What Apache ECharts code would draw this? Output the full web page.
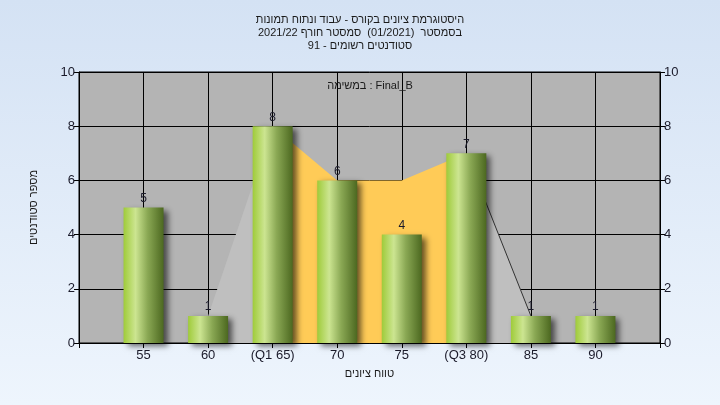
<!DOCTYPE html>
<html><head><meta charset="utf-8">
<script src="https://cdn.jsdelivr.net/npm/echarts@6/dist/echarts.min.js"></script>
<style>html,body{margin:0;padding:0;}#c{width:720px;height:405px;}</style>
</head><body><div id="c"></div>
<script>
var categories = ['', '55', '60', '(Q1 65)', '70', '75', '(Q3 80)', '85', '90', ''];
var counts = [null, 5, 1, 8, 6, 4, 7, 1, 1, null];
var lowWhisker = [null, null, 1, 8, null, null, null, null, null, null];
var boxArea = [null, null, null, 8, 6, 6, 7, null, null, null];
var highWhisker = [null, null, null, null, null, null, 7, 1, null, null];
var yTicks = {min: 0, max: 10, interval: 2};
var titleLines = ['היסטוגרמת ציונים בקורס - עבוד ונתוח תמונות', 'בסמסטר  (01/2021)  סמסטר חורף 2021/22', 'סטודנטים רשומים - 91'];
var subTitle = 'במשימה : Final_B';
var yName = 'מספר סטודנטים';
var xName = 'טווח ציונים';

var font = 'Liberation Sans';
var chart = echarts.init(document.getElementById('c'));
var barGrad = new echarts.graphic.LinearGradient(0, 0, 1, 0, [
  {offset: 0, color: '#9fcb3a'},
  {offset: 0.3, color: '#cce591'},
  {offset: 0.6, color: '#8aa854'},
  {offset: 1, color: '#4c6820'}
]);
var yAxisBase = {
  type: 'value', min: yTicks.min, max: yTicks.max, interval: yTicks.interval,
  axisLine: {show: true, lineStyle: {color: '#000', width: 1}},
  axisTick: {show: true, length: 5, lineStyle: {color: '#000'}},
  axisLabel: {color: '#1a1a2a', fontFamily: font, fontSize: 13, margin: 4}
};
chart.setOption({
  backgroundColor: new echarts.graphic.LinearGradient(0, 0, 0, 1, [
    {offset: 0, color: '#d4e2f4'}, {offset: 1, color: '#eef5fd'}
  ]),
  animation: false,
  title: [{
    text: titleLines.join('\n'), left: 'center', top: 8,
    textStyle: {fontFamily: font, fontSize: 11, fontWeight: 'normal', color: '#1a1a1a', lineHeight: 13}
  }, {
    text: subTitle, left: 365, top: 75, textAlign: 'center',
    textStyle: {fontFamily: font, fontSize: 11, fontWeight: 'normal', color: '#1a1a1a'}
  }],
  grid: {left: 79, right: 60, top: 72, bottom: 62, show: true, backgroundColor: '#b4b4b4', borderColor: '#000', borderWidth: 1},
  xAxis: {
    type: 'category', data: categories, boundaryGap: false,
    name: xName, nameLocation: 'middle', nameGap: 25,
    nameTextStyle: {fontFamily: font, fontSize: 11, color: '#1a1a1a'},
    axisLine: {show: true, lineStyle: {color: '#000'}},
    axisTick: {show: true, length: 5, interval: 0, lineStyle: {color: '#000'}},
    axisLabel: {interval: 0, color: '#1a1a2a', fontFamily: font, fontSize: 13, margin: 6},
    splitLine: {show: true, interval: 0, lineStyle: {color: '#000', width: 1}}
  },
  yAxis: [
    Object.assign({}, yAxisBase, {
      position: 'left', name: yName, nameLocation: 'middle', nameGap: 40, nameRotate: 90,
      nameTextStyle: {fontFamily: font, fontSize: 11, color: '#1a1a1a'},
      splitLine: {show: true, lineStyle: {color: '#000', width: 1}}
    }),
    Object.assign({}, yAxisBase, {position: 'right', splitLine: {show: false}})
  ],
  series: [
    {type: 'line', data: lowWhisker, symbol: 'none', connectNulls: false,
     lineStyle: {width: 0, color: '#bfbfbf'}, areaStyle: {color: '#bfbfbf', opacity: 1}, z: 1},
    {type: 'line', data: highWhisker, symbol: 'none',
     lineStyle: {width: 1, color: '#333'}, areaStyle: {color: '#bfbfbf', opacity: 1}, z: 1},
    {type: 'line', data: boxArea, symbol: 'none',
     lineStyle: {width: 0, color: '#ffcb57'}, areaStyle: {color: '#ffcb57', opacity: 1}, z: 1},
    {type: 'bar', data: counts, barWidth: 40, z: 3,
     itemStyle: {color: barGrad, shadowColor: 'rgba(0,0,0,0.6)', shadowBlur: 6, shadowOffsetX: 4, shadowOffsetY: 3},
     label: {show: true, position: 'top', distance: 3, color: '#1a1a2a', fontFamily: font, fontSize: 12}}
  ]
});
</script></body></html>
